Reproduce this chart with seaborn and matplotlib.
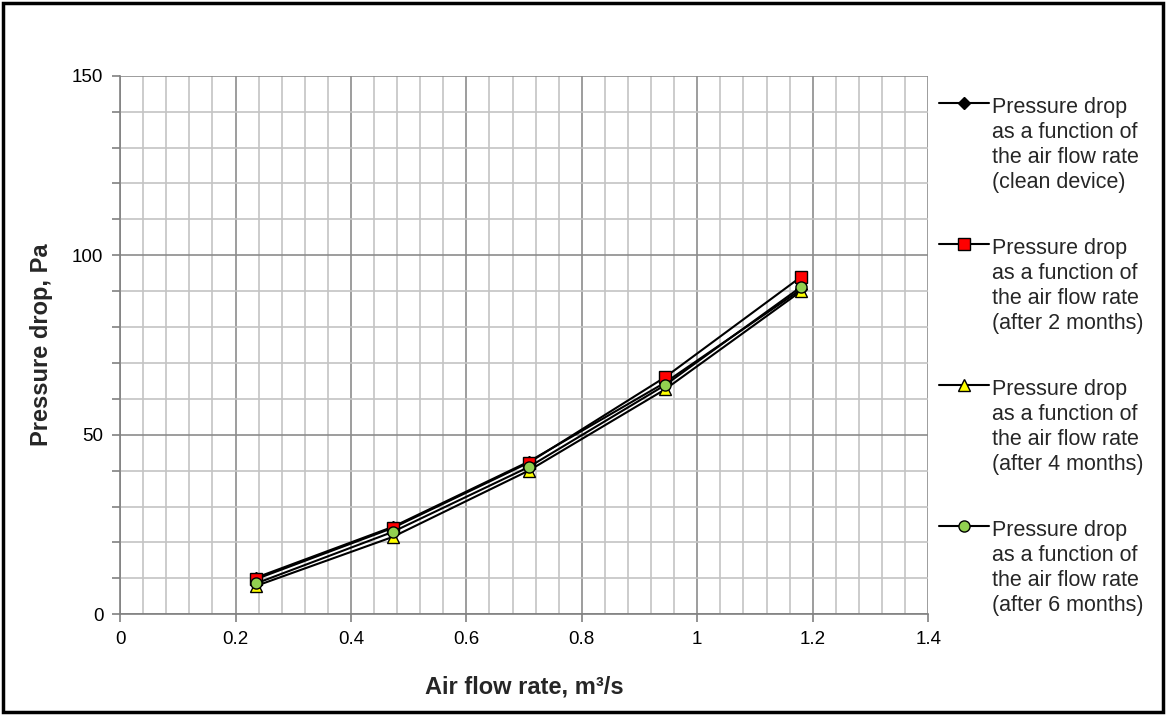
import matplotlib
matplotlib.use("Agg")
import matplotlib.pyplot as plt
import matplotlib.ticker as mticker
from matplotlib.patches import Rectangle
from matplotlib.legend_handler import HandlerLine2D
import seaborn as sns

# data
flow_rate = [0.236, 0.472, 0.708, 0.944, 1.18]
clean_device = [10.2, 24.3, 42.5, 64.5, 90.5]
after_2_months = [9.8, 24.0, 42.2, 66.0, 94.0]
after_4_months = [7.9, 21.5, 40.0, 62.6, 90.0]
after_6_months = [8.6, 22.9, 41.0, 63.8, 91.2]

labels = [
    "Pressure drop\nas a function of\nthe air flow rate\n(clean device)",
    "Pressure drop\nas a function of\nthe air flow rate\n(after 2 months)",
    "Pressure drop\nas a function of\nthe air flow rate\n(after 4 months)",
    "Pressure drop\nas a function of\nthe air flow rate\n(after 6 months)",
]
series = [clean_device, after_2_months, after_4_months, after_6_months]
markers = ["D", "s", "^", "o"]
face_colors = ["black", "#ff0000", "#ffff00", "#92d050"]
marker_sizes = [6, 8, 8, 8]

FS = 15.5
LINESP = 1.26


class TopHandler(HandlerLine2D):
    # put the legend line next to the first text line, like Excel does
    def create_artists(self, legend, orig_handle, xdescent, ydescent,
                       width, height, fontsize, trans):
        artists = super().create_artists(legend, orig_handle, xdescent, ydescent,
                                         width, height, fontsize, trans)
        shift = 1.5 * fontsize * LINESP * 1.04
        for a in artists:
            a.set_ydata([y + shift for y in a.get_ydata()])
        return artists


sns.set_theme(style="white")
plt.rcParams["font.family"] = ["Liberation Sans", "DejaVu Sans"]

fig = plt.figure(figsize=(11.66, 7.15), dpi=100)
ax = fig.add_axes([0.103, 0.141, 0.693, 0.753])

for vals, lab, m, fc, ms in zip(series, labels, markers, face_colors, marker_sizes):
    sns.lineplot(x=flow_rate, y=vals, ax=ax, color="black", linewidth=1.5,
                 marker=m, markersize=ms, markerfacecolor=fc,
                 markeredgecolor="black", markeredgewidth=1.0, label=lab)

ax.set_xlim(0, 1.4)
ax.set_ylim(0, 150)
ax.xaxis.set_major_locator(mticker.MultipleLocator(0.2))
ax.xaxis.set_minor_locator(mticker.MultipleLocator(0.04))
ax.yaxis.set_major_locator(mticker.MultipleLocator(50))
ax.yaxis.set_minor_locator(mticker.MultipleLocator(10))
ax.xaxis.set_major_formatter(mticker.FormatStrFormatter("%g"))

ax.grid(which="major", color="#8c8c8c", linewidth=1.2)
ax.grid(which="minor", color="#c4c4c4", linewidth=1.2)
ax.set_axisbelow(True)

for s in ["top", "right"]:
    ax.spines[s].set_visible(False)
for s in ["left", "bottom"]:
    ax.spines[s].set_color("#808080")
    ax.spines[s].set_linewidth(1.2)

ax.tick_params(axis="both", which="major", direction="out", length=6, width=1.2,
               color="#808080", labelsize=13.5, labelcolor="black", pad=6)
ax.tick_params(axis="y", which="minor", direction="out", length=6, width=1.2,
               color="#808080", left=True)
ax.tick_params(axis="x", which="minor", length=0)
ax.tick_params(axis="x", which="major", bottom=True)
ax.tick_params(axis="y", which="major", left=True)

ax.set_xlabel("Air flow rate, m³/s", fontsize=17, fontweight="bold", labelpad=20)
ax.set_ylabel("Pressure drop, Pa", fontsize=17, fontweight="bold", labelpad=14)

leg = ax.legend(loc="upper left", bbox_to_anchor=(0.99, 0.997), frameon=False,
                fontsize=FS, handlelength=2.3, handletextpad=0.15,
                labelspacing=2.07, borderaxespad=0.5,
                handler_map={plt.Line2D: TopHandler()})
for t in leg.get_texts():
    t.set_linespacing(LINESP)

fig.patches.append(Rectangle((0.003, 0.004), 0.994, 0.992, transform=fig.transFigure,
                             fill=False, edgecolor="black", linewidth=2.5))

fig.savefig("out.png", dpi=100)
